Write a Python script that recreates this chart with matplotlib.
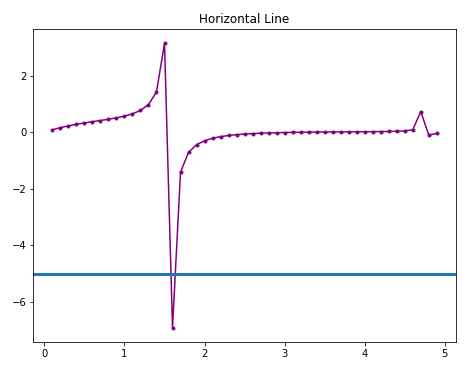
import matplotlib
matplotlib.use("Agg")
import matplotlib.pyplot as plt

# x positions of the points
x = [0.1, 0.2, 0.3, 0.4, 0.5, 0.6, 0.7, 0.8, 0.9, 1.0,
     1.1, 1.2, 1.3, 1.4, 1.5, 1.6, 1.7, 1.8, 1.9, 2.0,
     2.1, 2.2, 2.3, 2.4, 2.5, 2.6, 2.7, 2.8, 2.9, 3.0,
     3.1, 3.2, 3.3, 3.4, 3.5, 3.6, 3.7, 3.8, 3.9, 4.0,
     4.1, 4.2, 4.3, 4.4, 4.5, 4.6, 4.7, 4.8, 4.9]

# values
y = [0.091, 0.166, 0.229, 0.283, 0.331, 0.376, 0.418, 0.463, 0.512, 0.573,
     0.654, 0.775, 0.982, 1.430, 3.147, -6.912, -1.406, -0.709, -0.438, -0.296,
     -0.209, -0.152, -0.112, -0.083, -0.061, -0.045, -0.032, -0.022, -0.014, -0.007,
     -0.002, 0.002, 0.006, 0.009, 0.011, 0.014, 0.015, 0.017, 0.019, 0.021,
     0.024, 0.027, 0.031, 0.038, 0.052, 0.089, 0.734, -0.094, -0.039]

hline_y = -5

fig = plt.figure(figsize=(474 / 72, 373 / 72), dpi=72)
ax = fig.add_axes([0.070, 0.083, 0.892, 0.839])

ax.plot(x, y, color='purple', marker='.')
ax.axhline(y=hline_y, linewidth=3)
ax.set_title('Horizontal Line')

fig.savefig('out.png', dpi=72)
